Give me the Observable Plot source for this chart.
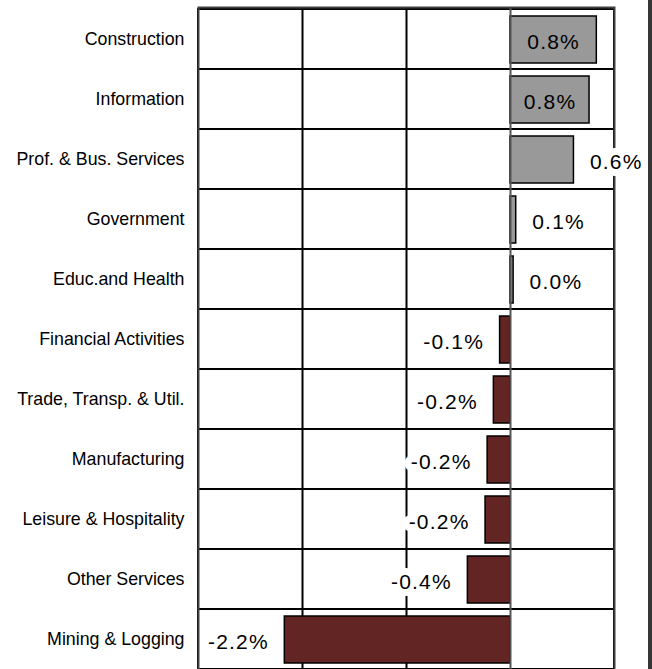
<!DOCTYPE html>
<html>
<head>
<meta charset="utf-8">
<script src="https://cdn.jsdelivr.net/npm/d3@7"></script>
<script src="https://cdn.jsdelivr.net/npm/@observablehq/plot@0.6"></script>
<style>
  html, body { margin: 0; padding: 0; background: #fff; overflow: hidden; }
  #wrap { position: relative; width: 652px; height: 669px; }
  #edge { position: absolute; left: 648px; top: 0; width: 4px; height: 669px; background: #363636; }
  svg text { font-family: "Liberation Sans", Arial, sans-serif; }
</style>
</head>
<body>
<div id="wrap"><div id="chart"></div><div id="edge"></div></div>
<script>
const categories = [
  "Construction", "Information", "Prof. & Bus. Services", "Government",
  "Educ.and Health", "Financial Activities", "Trade, Transp. & Util.",
  "Manufacturing", "Leisure & Hospitality", "Other Services", "Mining & Logging"
];
const values = [0.83, 0.76, 0.61, 0.055, 0.03, -0.1, -0.16, -0.22, -0.24, -0.41, -2.17];
const valueLabels = ["0.8%", "0.8%", "0.6%", "0.1%", "0.0%", "-0.1%", "-0.2%", "-0.2%", "-0.2%", "-0.4%", "-2.2%"];
const xDomain = [-3, 1];
const gridValues = [-2, -1];

const data = categories.map((c, i) => ({category: c, value: values[i], label: valueLabels[i]}));

const posColor = "#999999";
const negColor = "#632523";
const labelFont = {fontSize: 21, fill: "#000"};

const chart = Plot.plot({
  width: 652,
  height: 671,
  marginLeft: 198,
  marginRight: 38,
  marginTop: 7,
  marginBottom: 1,
  x: {domain: xDomain, axis: null},
  y: {domain: categories, padding: 0, label: null, tickSize: 0, tickPadding: 14},
  style: {fontFamily: "'Liberation Sans', Arial, sans-serif", fontSize: "17.8px", color: "#000", background: "transparent"},
  marks: [
    Plot.barX(data, {x1: xDomain[0], x2: xDomain[1], y: "category", fill: "white", stroke: "#000", strokeWidth: 2}),
    Plot.ruleX(gridValues, {stroke: "#000", strokeWidth: 2}),
    Plot.barX(data, {
      x1: 0, x2: "value", y: "category",
      fill: d => d.value >= 0 ? posColor : negColor,
      stroke: "#000", strokeWidth: 1.5,
      insetTop: 7, insetBottom: 6
    }),
    Plot.ruleX([0], {stroke: "#555", strokeWidth: 2}),
    Plot.frame({stroke: "#404040", strokeWidth: 2}),
    Plot.text(data.filter(d => d.value < 0), {
      x: "value", y: "category", text: "label", textAnchor: "end", dx: -16, dy: 3,
      stroke: "white", strokeWidth: 14, paintOrder: "stroke", ...labelFont
    }),
    Plot.text(data.filter(d => d.value >= 0 && d.value < 0.7), {
      x: "value", y: "category", text: "label", textAnchor: "start", dx: 16, dy: 3,
      stroke: "white", strokeWidth: 14, paintOrder: "stroke", ...labelFont
    }),
    Plot.text(data.filter(d => d.value >= 0.7), {
      x: d => d.value / 2, y: "category", text: "label", textAnchor: "middle", dy: 3,
      ...labelFont
    })
  ]
});
d3.select(chart).selectAll("g[aria-label='text'] text").style("letter-spacing", "1.2px");
document.getElementById("chart").appendChild(chart);
</script>
</body>
</html>
